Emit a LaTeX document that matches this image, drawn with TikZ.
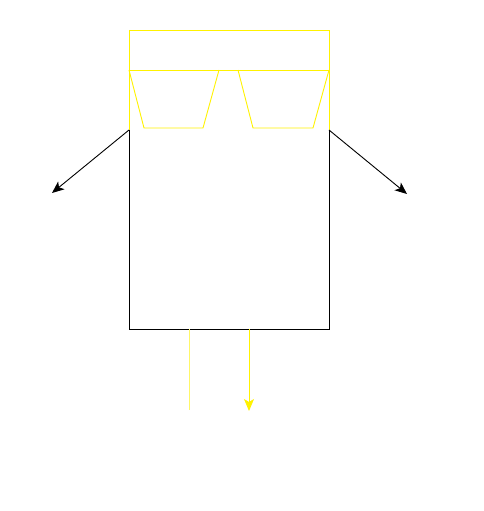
\documentclass[tikz,border=0pt]{standalone}
\usepackage{tikz}
\usetikzlibrary{arrows.meta}

\begin{document}
\begin{tikzpicture}[x=1pt, y=-1pt, line width=0.9pt,
    hopper/.style={draw=yellow},
    flow/.style={-{Stealth[length=12pt,width=10pt,inset=3pt]}}]
      \useasboundingbox (0,0) rectangle (484,511);
      % frame corners
      \coordinate (tl) at (129,30);
      \coordinate (tr) at (329,30);
      \coordinate (ml) at (129,70);
      \coordinate (mr) at (329,70);
      \coordinate (sl) at (129,130);
      \coordinate (sr) at (329,130);
      \coordinate (bl) at (129,329);
      \coordinate (br) at (329,329);
      % trapezoids
      \coordinate (a1) at (219,70);
      \coordinate (a2) at (203,128);
      \coordinate (a3) at (144,128);
      \coordinate (b1) at (238,70);
      \coordinate (b2) at (253,128);
      \coordinate (b3) at (313,128);
      % outlets
      \coordinate (outl) at (52,193);
      \coordinate (outr) at (407,194);
      \coordinate (d1) at (189,329);
      \coordinate (e1) at (189,410);
      \coordinate (d2) at (249,329);
      \coordinate (e2) at (249,411);

      \draw[hopper] (tl) -- (tr) -- (sr);
      \draw[hopper] (tl) -- (sl);
      \draw[hopper] (ml) -- (mr);
      \draw[hopper] (ml) -- (a3) -- (a2) -- (a1);
      \draw[hopper] (b1) -- (b2) -- (b3) -- (mr);
      \draw (sl) -- (bl) -- (br) -- (sr);
      \draw[flow] (sl) -- (outl);
      \draw[flow] (sr) -- (outr);
      \draw[yellow!60!white, line width=0.6pt] (d1) -- (e1);
      \draw[flow, yellow] (d2) -- (e2);
    \end{tikzpicture}
\end{document}
